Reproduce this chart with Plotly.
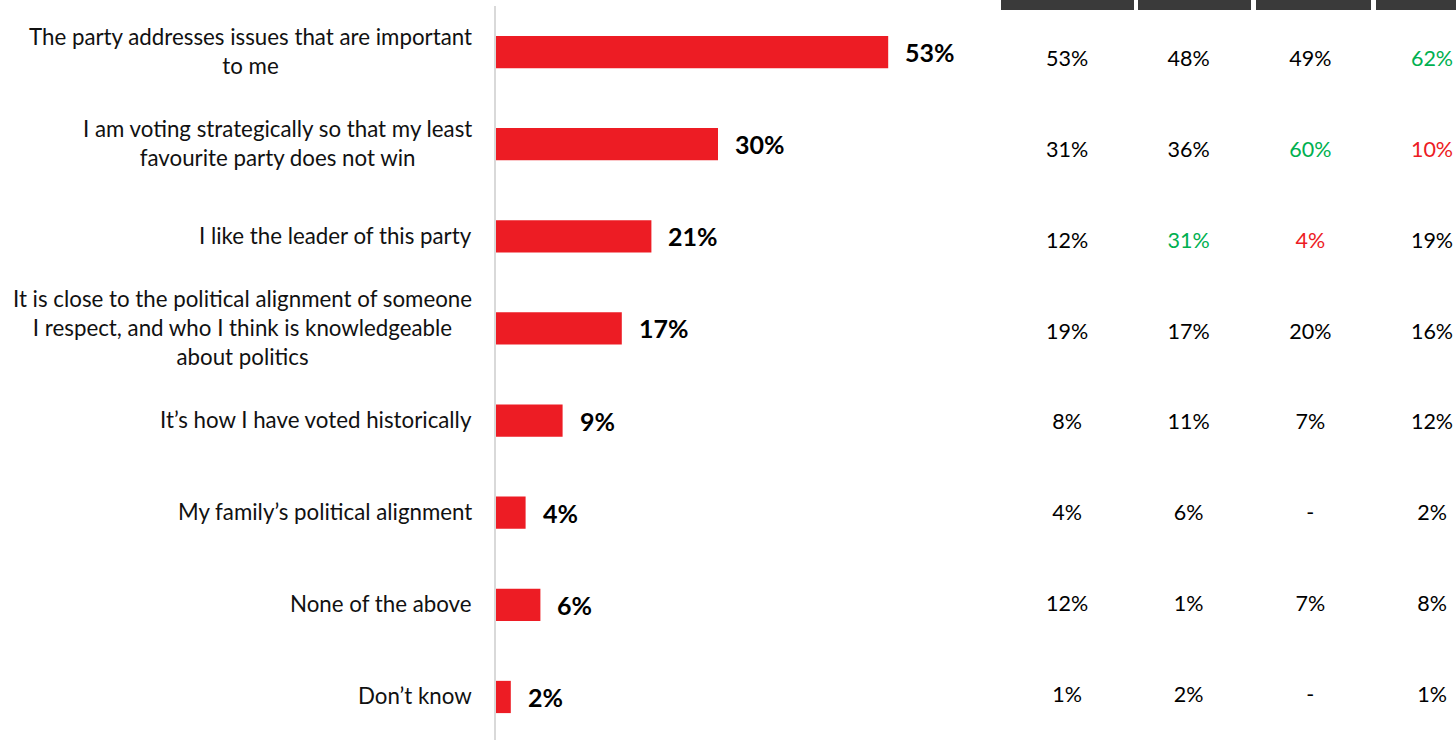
import plotly.graph_objects as go

categories = [
    "The party addresses issues that are important<br>to me",
    "I am voting strategically so that my least<br>favourite party does not win",
    "I like the leader of this party",
    "It is close to the political alignment of someone<br>I respect, and who I think is knowledgeable<br>about politics",
    "It’s how I have voted historically",
    "My family’s political alignment",
    "None of the above",
    "Don’t know",
]
total = [53, 30, 21, 17, 9, 4, 6, 2]

col1 = ["53%", "31%", "12%", "19%", "8%", "4%", "12%", "1%"]
col2 = ["48%", "36%", "31%", "17%", "11%", "6%", "1%", "2%"]
col3 = ["49%", "60%", "4%", "20%", "7%", "-", "7%", "-"]
col4 = ["62%", "10%", "19%", "16%", "12%", "2%", "8%", "1%"]
# significance flags: "+" higher (green), "-" lower (red), "" none
sig1 = ["", "", "", "", "", "", "", ""]
sig2 = ["", "", "+", "", "", "", "", ""]
sig3 = ["", "+", "-", "", "", "", "", ""]
sig4 = ["+", "-", "", "", "", "", "", ""]

W, H = 1456, 740
RED = "#ED1C24"
GREEN = "#00B050"
FONT = "Lato"

fig = go.Figure()
fig.add_trace(go.Bar(
    x=total, y=categories, orientation="h",
    marker=dict(color=RED, line=dict(width=0)),
    width=0.35, xaxis="x", yaxis="y", hoverinfo="skip",
))

sig_color = {"": "#000000", "+": GREEN, "-": RED}
cols = [col1, col2, col3, col4]
sigs = [sig1, sig2, sig3, sig4]
for ci, (col, sg) in enumerate(zip(cols, sigs)):
    fig.add_trace(go.Scatter(
        x=[ci] * len(col), y=categories, text=col, mode="text",
        textposition="middle center",
        textfont=dict(family=FONT, size=21.5, color=[sig_color[s] for s in sg]),
        xaxis="x2", yaxis="y2", hoverinfo="skip",
    ))

annotations = []
for cat, v in zip(categories, total):
    annotations.append(dict(
        x=v, y=cat, xref="x", yref="y", text=f"<b>{v}%</b>",
        showarrow=False, xanchor="left", yanchor="middle", xshift=15, yshift=0,
        font=dict(family=FONT, size=25, color="#000000"),
    ))
    annotations.append(dict(
        x=474 / W, y=cat, xref="paper", yref="y", text=cat,
        showarrow=False, xanchor="right", yanchor="middle", align="center",
        yshift=1,
        font=dict(family=FONT, size=22.3, color="#111111"),
    ))

plot_top, plot_bot = 6, 740
ph = plot_bot - plot_top
def py(p):
    return (plot_bot - p) / ph

shapes = []
for x0, x1 in [(1001, 1134), (1138, 1251), (1256, 1371), (1376, 1470)]:
    shapes.append(dict(type="rect", xref="paper", yref="paper",
                       x0=x0 / W, x1=x1 / W, y0=py(10), y1=py(-2),
                       fillcolor="#3A3A3A", line=dict(width=0), layer="above"))

fig.update_layout(
    width=W, height=H,
    margin=dict(l=0, r=0, t=plot_top, b=H - plot_bot),
    paper_bgcolor="white", plot_bgcolor="white",
    showlegend=False,
    xaxis=dict(domain=[496 / W, 1000 / W], range=[0, (1000 - 496) / 7.4],
               showgrid=False, zeroline=False, showticklabels=False, ticks=""),
    yaxis=dict(type="category", categoryorder="array", categoryarray=categories,
               range=[7.467, -0.5], showline=True, linecolor="#D9D9D9", linewidth=2,
               showgrid=False, zeroline=False, showticklabels=False, ticks=""),
    xaxis2=dict(domain=[1000 / W, 1.0], range=[-0.551, 3.197], anchor="y2",
                showgrid=False, zeroline=False, showticklabels=False, ticks="", showline=False),
    yaxis2=dict(domain=[0, 1], anchor="x2", type="category", categoryorder="array",
                categoryarray=categories, range=[7.480, -0.602],
                showgrid=False, zeroline=False, showticklabels=False, ticks="", showline=False),
    annotations=annotations,
    shapes=shapes,
)

fig.write_html(
    "out.html",
    config={"displayModeBar": False, "staticPlot": True},
    post_script="document.body.style.margin='0';document.body.style.overflow='hidden';",
)
